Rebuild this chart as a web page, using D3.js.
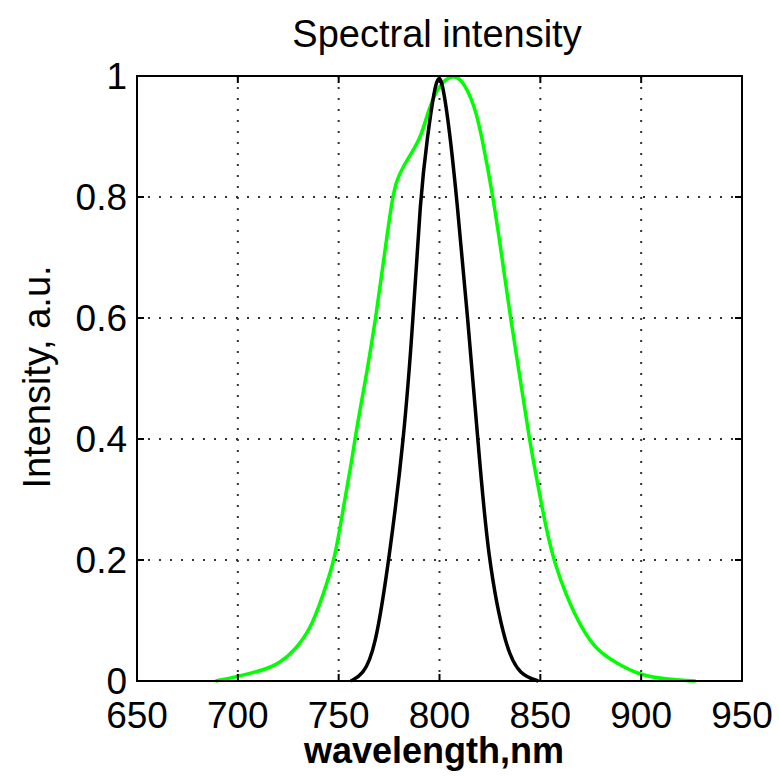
<!DOCTYPE html>
<head>
<meta charset="utf-8">
<script src="https://d3js.org/d3.v7.min.js"></script>
<title>Spectral intensity</title>
<style>
  body { margin: 0; background: #fff; }
  text { font-family: "Liberation Sans", Arial, sans-serif; fill: #000; }
</style>
</head>
<body>
<div id="chart"></div>
<script>

// tick values
var xTicks = [650, 700, 750, 800, 850, 900, 950];
var yTicks = [0, 0.2, 0.4, 0.6, 0.8, 1];
var yTickLabels = ["0", "0.2", "0.4", "0.6", "0.8", "1"];

// black (narrow) spectrum
var blackWl = [756, 762, 768, 775, 782.4, 787, 790.5, 794, 797.5, 799.5, 801.5, 805, 808.5, 814, 819, 824, 833, 840, 849];
var blackI  = [0, 0.01, 0.05, 0.2, 0.4, 0.6, 0.8, 0.9, 0.98, 1, 0.99, 0.91, 0.8, 0.6, 0.4, 0.2, 0.05, 0.01, 0];

// green (broad) spectrum
var greenWl = [689, 699, 713, 721, 728, 736, 742, 747.5, 750.5, 753.3, 756.3, 759, 764, 768.4, 772.5, 776.6, 779, 782, 786.5, 791, 795, 800, 804, 808, 812, 817.5, 821, 826.6, 831, 835.2, 840, 844.5, 849, 853, 857, 863, 870, 878, 888, 899, 912, 927];
var greenI  = [0, 0.007, 0.018, 0.03, 0.05, 0.085, 0.14, 0.195, 0.25, 0.305, 0.36, 0.42, 0.51, 0.6, 0.7, 0.8, 0.83, 0.85, 0.875, 0.9, 0.95, 0.985, 0.997, 1, 0.99, 0.95, 0.9, 0.8, 0.7, 0.6, 0.5, 0.4, 0.32, 0.25, 0.195, 0.14, 0.09, 0.05, 0.029, 0.01, 0.003, 0];

// canvas and plot box
var width = 779,
    height = 779;
var boxLeft = 137, boxRight = 742, boxTop = 76, boxBottom = 681;

var svg = d3.select("#chart")
    .append("svg")
    .attr("width", width)
    .attr("height", height);

var x = d3.scaleLinear().domain([650, 950]).range([boxLeft, boxRight]);
var y = d3.scaleLinear().domain([0, 1]).range([boxBottom, boxTop]);

// dotted grid
var grid = svg.append("g")
    .attr("stroke", "#333")
    .attr("stroke-width", 2)
    .attr("stroke-dasharray", "2,9");

grid.selectAll(".vgrid")
    .data(xTicks.slice(1, -1))
    .enter().append("line")
    .attr("x1", d => x(d)).attr("x2", d => x(d))
    .attr("y1", boxTop).attr("y2", boxBottom);

grid.selectAll(".hgrid")
    .data(yTicks.slice(1, -1))
    .enter().append("line")
    .attr("y1", d => y(d)).attr("y2", d => y(d))
    .attr("x1", boxLeft).attr("x2", boxRight);

// the two spectra (basis curve smooths the hand-read points)
var line = d3.line()
    .x(d => x(d[0]))
    .y(d => y(d[1]))
    .curve(d3.curveBasis);

svg.append("path")
    .datum(greenWl.map((w, i) => [w, greenI[i]]))
    .attr("fill", "none")
    .attr("stroke", "#00ff00")
    .attr("stroke-width", 3.5)
    .attr("d", line);

svg.append("path")
    .datum(blackWl.map((w, i) => [w, blackI[i]]))
    .attr("fill", "none")
    .attr("stroke", "#000")
    .attr("stroke-width", 3.5)
    .attr("d", line);

// box and inward ticks
svg.append("rect")
    .attr("x", boxLeft).attr("y", boxTop)
    .attr("width", boxRight - boxLeft).attr("height", boxBottom - boxTop)
    .attr("fill", "none")
    .attr("stroke", "#000")
    .attr("stroke-width", 2);

var ticks = svg.append("g").attr("stroke", "#000").attr("stroke-width", 2);
xTicks.forEach(function(d) {
    ticks.append("line").attr("x1", x(d)).attr("x2", x(d)).attr("y1", boxBottom).attr("y2", boxBottom - 7);
    ticks.append("line").attr("x1", x(d)).attr("x2", x(d)).attr("y1", boxTop).attr("y2", boxTop + 7);
});
yTicks.forEach(function(d) {
    ticks.append("line").attr("y1", y(d)).attr("y2", y(d)).attr("x1", boxLeft).attr("x2", boxLeft + 7);
    ticks.append("line").attr("y1", y(d)).attr("y2", y(d)).attr("x1", boxRight).attr("x2", boxRight - 7);
});

// tick labels
svg.selectAll(".xlab")
    .data(xTicks)
    .enter().append("text")
    .attr("x", d => x(d))
    .attr("y", 728)
    .attr("text-anchor", "middle")
    .attr("font-size", 37)
    .text(d => d);

svg.selectAll(".ylab")
    .data(yTicks)
    .enter().append("text")
    .attr("x", boxLeft - 10)
    .attr("y", d => y(d) + 13)
    .attr("text-anchor", "end")
    .attr("font-size", 37)
    .text((d, i) => yTickLabels[i]);

// titles
svg.append("text")
    .attr("x", 437).attr("y", 47)
    .attr("text-anchor", "middle")
    .attr("font-size", 38)
    .text("Spectral intensity");

svg.append("text")
    .attr("x", 434).attr("y", 763)
    .attr("text-anchor", "middle")
    .attr("font-size", 36)
    .attr("font-weight", "bold")
    .text("wavelength,nm");

svg.append("text")
    .attr("transform", "translate(50," + 377 + ") rotate(-90)")
    .attr("text-anchor", "middle")
    .attr("font-size", 38)
    .text("Intensity, a.u.");

</script>
</body>
